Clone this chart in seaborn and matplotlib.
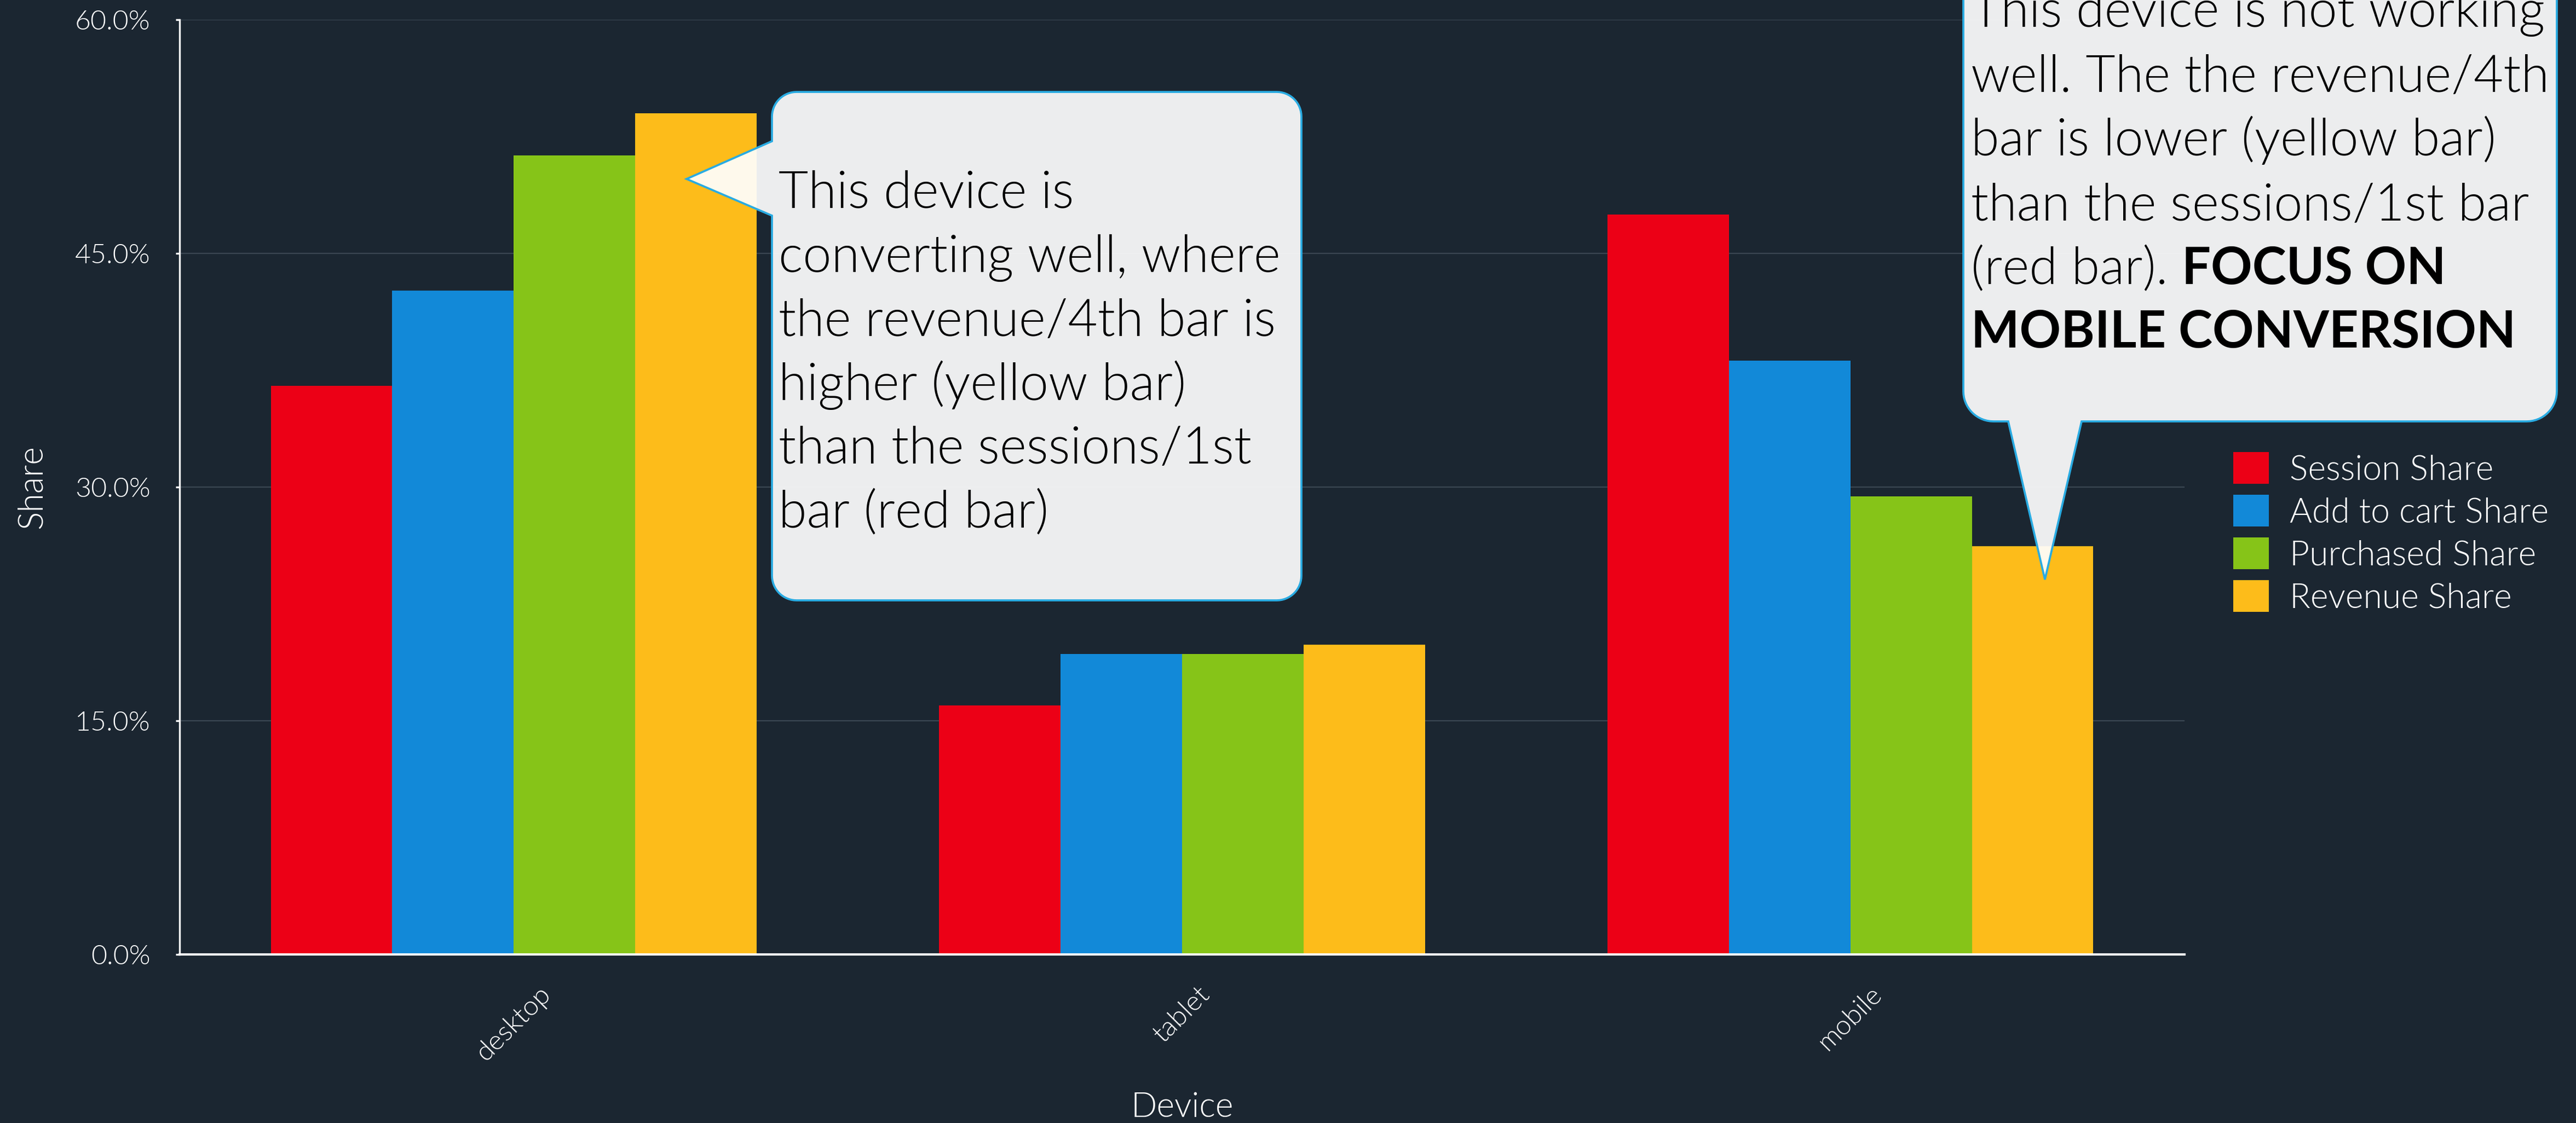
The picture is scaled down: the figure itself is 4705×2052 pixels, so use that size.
import numpy as np
import pandas as pd
import matplotlib
matplotlib.use("Agg")
import matplotlib.pyplot as plt
import matplotlib.transforms as mtransforms
from matplotlib.patches import Polygon
from matplotlib.ticker import PercentFormatter
import seaborn as sns

# ---------------- data ----------------
devices = ["desktop", "tablet", "mobile"]
metrics = ["Session Share", "Add to cart Share", "Purchased Share", "Revenue Share"]
session_share = [36.5, 16.0, 47.5]
cart_share = [42.6, 19.3, 38.1]
purchased_share = [51.3, 19.3, 29.4]
revenue_share = [54.0, 19.9, 26.2]
y_ticks = [0, 15, 30, 45, 60]
colors = ["#EC0016", "#1289D8", "#86C418", "#FDBC1A"]

callout1_lines = ["This device is", "converting well, where", "the revenue/4th bar is",
                  "higher (yellow bar)", "than the sessions/1st", "bar (red bar)"]
callout2_lines = ["This device is not working", "well. The the revenue/4th",
                  "bar is lower (yellow bar)", "than the sessions/1st bar"]
callout2_last_plain = "(red bar). "
callout2_bold = ["FOCUS ON", "MOBILE CONVERSION"]

df = pd.DataFrame({
    "Device": devices * 4,
    "Metric": sum([[m] * 3 for m in metrics], []),
    "Share": session_share + cart_share + purchased_share + revenue_share,
})

# ---------------- style ----------------
BG = "#1B2631"
W, H, DPI = 4705, 2052, 300
LIGHT = 300
sns.set_theme(style="dark")
plt.rcParams["font.family"] = ["Lato", "DejaVu Sans"]
plt.rcParams["font.weight"] = LIGHT
plt.rcParams["axes.labelweight"] = LIGHT

fig = plt.figure(figsize=(W / DPI, H / DPI), dpi=DPI, facecolor=BG)
ax = fig.add_axes([328 / W, 1 - 1744 / H, (3990 - 328) / W, (1744 - 36) / H])
ax.set_facecolor(BG)

sns.barplot(data=df, x="Device", y="Share", hue="Metric", order=devices,
            hue_order=metrics, palette=colors, saturation=1, width=0.727,
            gap=0, errorbar=None, ax=ax, linewidth=0, zorder=2)

ax.set_ylim(0, 60)
ax.set_xlim(-0.5, 2.5)
ax.set_yticks(y_ticks)
ax.yaxis.set_major_formatter(PercentFormatter(xmax=100, decimals=1))
ax.grid(axis="y", color="#3A4652", linewidth=0.55, zorder=0)
ax.grid(axis="x", visible=False)
ax.set_axisbelow(True)

for s in ["top", "right"]:
    ax.spines[s].set_visible(False)
for s in ["left", "bottom"]:
    ax.spines[s].set_visible(True)
    ax.spines[s].set_color("white")
ax.spines["left"].set_linewidth(0.8)
ax.spines["bottom"].set_linewidth(1.0)

ax.tick_params(axis="y", colors="white", labelsize=12, length=1.8, width=0.8,
               pad=11, left=True)
ax.tick_params(axis="x", colors="white", labelsize=12, length=0, pad=12)
for lab in ax.get_xticklabels():
    lab.set_rotation(45)
    lab.set_fontweight(LIGHT)
for lab in ax.get_yticklabels():
    lab.set_fontweight(LIGHT)

ax.set_xlabel("Device", color="white", fontsize=15, fontweight=LIGHT, labelpad=11.5)
ax.set_ylabel("Share", color="white", fontsize=15, fontweight=LIGHT, labelpad=12)

# legend
sns.move_legend(ax, loc="upper left", bbox_to_anchor=(4079 / W, 1 - 826 / H),
                bbox_transform=fig.transFigure, frameon=False, title=None,
                fontsize=15, handlelength=1.04, handleheight=1.04,
                handletextpad=0.6, labelspacing=0.27, borderpad=0,
                borderaxespad=0)
for t in ax.get_legend().get_texts():
    t.set_color("white")
    t.set_fontweight(LIGHT)

# ---------------- callouts ----------------
pix = mtransforms.Affine2D().scale(1 / W, -1 / H).translate(0, 1) + fig.transFigure


def rounded_box(x0, y0, x1, y1, r, left_ptr=None, bottom_ptr=None, n=16):
    pts = []
    pts.append((x0 + r, y0))
    pts.append((x1 - r, y0))
    for a in np.linspace(-np.pi / 2, 0, n):
        pts.append((x1 - r + r * np.cos(a), y0 + r + r * np.sin(a)))
    pts.append((x1, y1 - r))
    for a in np.linspace(0, np.pi / 2, n):
        pts.append((x1 - r + r * np.cos(a), y1 - r + r * np.sin(a)))
    if bottom_ptr is not None:
        pts.extend(bottom_ptr)
    pts.append((x0 + r, y1))
    for a in np.linspace(np.pi / 2, np.pi, n):
        pts.append((x0 + r + r * np.cos(a), y1 - r + r * np.sin(a)))
    if left_ptr is not None:
        pts.extend(left_ptr)
    pts.append((x0, y0 + r))
    for a in np.linspace(np.pi, 1.5 * np.pi, n):
        pts.append((x0 + r + r * np.cos(a), y0 + r + r * np.sin(a)))
    return pts


box_kw = dict(closed=True, facecolor=(1, 1, 1, 0.92), edgecolor="#29ABE2",
              linewidth=0.9, transform=pix, zorder=5, clip_on=False,
              joinstyle="miter")

p1 = rounded_box(1410, 168, 2377, 1097, 45,
                 left_ptr=[(1410, 394), (1254, 327), (1410, 258)])
fig.add_artist(Polygon(p1, **box_kw))

p2 = rounded_box(3586, -120, 4670, 770, 55,
                 bottom_ptr=[(3802, 770), (3735, 1059), (3668, 770)])
fig.add_artist(Polygon(p2, **box_kw))

TXT = dict(color="black", fontsize=22.5, fontweight=LIGHT, transform=pix,
           va="baseline", ha="left", zorder=6)

base1 = [379, 497, 614, 731, 847, 964]
for ln, yb in zip(callout1_lines, base1):
    fig.text(1422, yb, ln, **TXT)

base2 = [49, 168, 284, 403, 519, 635]
for ln, yb in zip(callout2_lines, base2[:4]):
    fig.text(3600, yb, ln, **TXT)
t5 = fig.text(3600, base2[4], callout2_last_plain, **TXT)
fig.canvas.draw()
ext = t5.get_window_extent(renderer=fig.canvas.get_renderer())
bold_kw = dict(TXT)
bold_kw["fontweight"] = "bold"
fig.text(ext.x1, base2[4], callout2_bold[0], **bold_kw)
fig.text(3600, base2[5], callout2_bold[1], **bold_kw)

fig.savefig("out.png", dpi=DPI, facecolor=BG)
